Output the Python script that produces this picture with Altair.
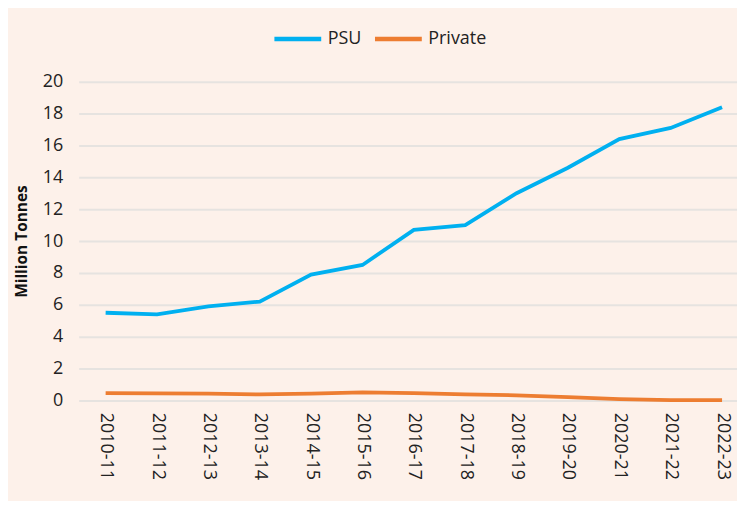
import altair as alt
import pandas as pd

years = ["2010-11", "2011-12", "2012-13", "2013-14", "2014-15", "2015-16", "2016-17",
         "2017-18", "2018-19", "2019-20", "2020-21", "2021-22", "2022-23"]
psu = [5.5, 5.4, 5.9, 6.2, 7.9, 8.5, 10.7, 11.0, 13.0, 14.6, 16.4, 17.1, 18.4]
private = [0.45, 0.44, 0.42, 0.38, 0.43, 0.50, 0.45, 0.38, 0.32, 0.20, 0.08, 0.02, 0.02]
series = ["PSU", "Private"]
colors = ["#00B0F0", "#ED7D31"]

rows = []
for i, y in enumerate(years):
    rows.append({"year": y, "series": "PSU", "value": psu[i]})
    rows.append({"year": y, "series": "Private", "value": private[i]})
df = pd.DataFrame(rows)

font = "Open Sans"

chart = alt.Chart(df).mark_line(strokeWidth=3.8).encode(
    x=alt.X("year:N", sort=years, title=None,
            scale=alt.Scale(type="point", padding=0.4075, align=0.643),
            axis=alt.Axis(labelAngle=90, labelAlign="left", labelBaseline="middle",
                          labelFontSize=18, labelColor="#222", labelFont=font,
                          ticks=False, domain=False, labelPadding=12, grid=False)),
    y=alt.Y("value:Q", title="Million Tonnes",
            scale=alt.Scale(domain=[0, 20]),
            axis=alt.Axis(values=list(range(0, 21, 2)), labelFontSize=18, labelColor="#222",
                          labelFont=font, ticks=False, domain=False, labelPadding=16,
                          titleFont=font, titleFontSize=15.5, titleFontWeight="bold",
                          titleColor="#111", titlePadding=13,
                          grid=True, gridColor="#E6E3E0", gridWidth=2)),
    color=alt.Color("series:N", sort=series,
                    scale=alt.Scale(domain=series, range=colors),
                    legend=alt.Legend(title=None, orient="none", direction="horizontal",
                                      legendX=194, legendY=-69,
                                      symbolType="stroke", symbolSize=2209,
                                      symbolStrokeWidth=4.5, labelFontSize=18,
                                      labelFont=font, labelColor="#222",
                                      columnPadding=4, labelOffset=4)),
).properties(
    width=661, height=320,
    autosize=alt.AutoSizeParams(type="none"),
    padding={"left": 71, "top": 73, "right": 0, "bottom": 100},
    background="#FDF1EA",
).configure_view(stroke=None)

chart.save("out.html", embed_options={"renderer": "svg", "actions": False})
